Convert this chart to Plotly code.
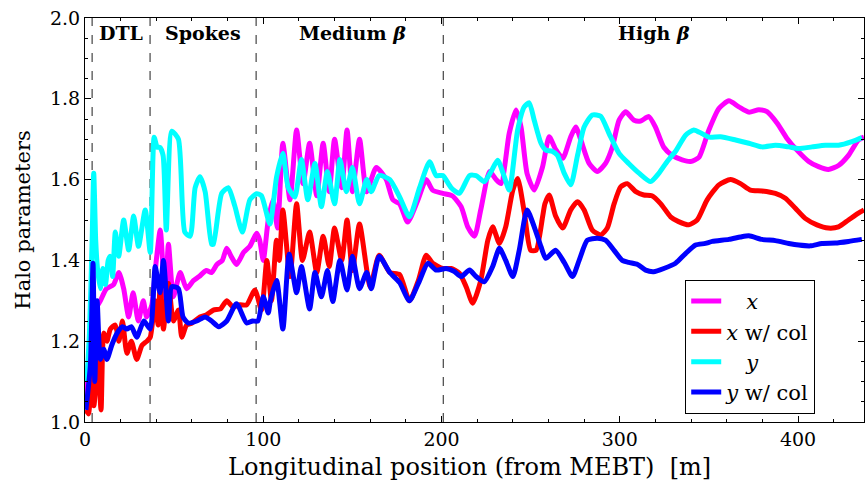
import plotly.graph_objects as go

# ---------------- data ----------------
x_mag = [0.5, 2, 4, 6, 8.6, 12, 16, 19, 21.7, 24.5, 27, 29.9, 32.7, 34.6, 37.5, 40, 42.2, 45, 46.8, 49.6,
         53.4, 57, 60.8, 64, 68, 71, 74, 77, 79.5, 82, 85, 89, 92.5, 96.3, 98, 100, 102.8, 105.5, 108, 111,
         115, 118.7, 122.3, 126, 130, 133.6, 137, 140, 144, 147, 150, 154, 158, 163.4, 169, 172.7, 176.5, 181,
         186.8, 191.4, 195, 200.7, 206, 211, 214.7, 218.5, 222, 227, 230.6, 233.4, 238, 241.8, 244.6, 248,
         252, 256.7, 260.4, 264, 268, 272.5, 275.3, 278, 282.8, 287.4, 292, 295.8, 299.6, 303.3, 308, 311.7,
         316.3, 320, 324.7, 329.4, 335, 339.7, 344.4, 350, 355.6, 361.2, 366.8, 372.4, 378, 382.6, 388.2,
         393.8, 399.4, 406, 411.5, 417, 422.7, 428.3, 433.9, 437]
y_mag = [1.05, 1.15, 1.22, 1.28, 1.30, 1.33, 1.34, 1.37, 1.33, 1.26, 1.32, 1.25, 1.30, 1.26, 1.29, 1.40, 1.475, 1.30, 1.44, 1.31,
         1.37, 1.33, 1.35, 1.36, 1.375, 1.37, 1.39, 1.40, 1.43, 1.41, 1.39, 1.42, 1.435, 1.467, 1.45, 1.40, 1.50, 1.55, 1.48, 1.69,
         1.55, 1.723, 1.59, 1.69, 1.56, 1.69, 1.57, 1.70, 1.58, 1.723, 1.57, 1.70, 1.57, 1.63, 1.60, 1.55, 1.54, 1.495,
         1.55, 1.60, 1.574, 1.566, 1.56, 1.533, 1.483, 1.46, 1.525, 1.62, 1.60, 1.59, 1.715, 1.772, 1.73, 1.615,
         1.574, 1.632, 1.706, 1.675, 1.653, 1.706, 1.73, 1.70, 1.64, 1.62, 1.64, 1.68, 1.747, 1.768, 1.747, 1.745,
         1.756, 1.73, 1.68, 1.66, 1.649, 1.645, 1.655, 1.723, 1.776, 1.795, 1.78, 1.767, 1.773, 1.768, 1.74,
         1.702, 1.673, 1.645, 1.632, 1.625, 1.635, 1.66, 1.698, 1.705]

x_red = [0.5, 2, 3.6, 5, 7.2, 9, 10.5, 12.3, 14.2, 17, 19, 21, 23.5, 26, 29, 32, 34.7, 36.6, 39.4, 41, 42.2, 44,
         46.8, 49.6, 52.4, 54.3, 57, 60, 64.5, 68, 72, 76, 79.5, 83, 87, 90.7, 95.3, 99, 102, 104.6, 107.4, 109,
         111, 115, 118.7, 122, 126, 130, 133.6, 137, 140, 144, 147, 150, 154, 160, 165, 171, 176.5, 182, 187,
         191.4, 195, 200.7, 205.4, 210, 213.8, 217.5, 222, 226, 228.7, 232.5, 236, 240, 242.7, 246.4, 250, 253,
         256.7, 258, 260.4, 264, 268, 272.5, 276.3, 280, 284.6, 289.3, 293, 296.8, 300.5, 304.2, 309, 313.5,
         318, 323, 328.5, 333, 338.7, 343.4, 349, 355.6, 362.1, 367.7, 373.3, 379.8, 387.3, 392.9, 398.5,
         404, 410.6, 417, 422.7, 428.3, 433.9, 437]
y_red = [1.03, 1.02, 1.22, 1.04, 1.15, 1.03, 1.22, 1.20, 1.23, 1.24, 1.20, 1.25, 1.17, 1.20, 1.155, 1.19, 1.20, 1.21, 1.30, 1.24, 1.343, 1.23,
         1.343, 1.25, 1.277, 1.21, 1.24, 1.245, 1.26, 1.265, 1.277, 1.28, 1.30, 1.285, 1.29, 1.29, 1.327, 1.277, 1.40, 1.30, 1.45, 1.40,
         1.525, 1.36, 1.54, 1.40, 1.47, 1.37, 1.46, 1.385, 1.48, 1.40, 1.50, 1.375, 1.49, 1.335, 1.413, 1.37, 1.365, 1.30, 1.35,
         1.413, 1.393, 1.38, 1.38, 1.368, 1.335, 1.294, 1.35, 1.45, 1.483, 1.442, 1.483, 1.574, 1.603, 1.52, 1.425, 1.425,
         1.508, 1.54, 1.562, 1.51, 1.48, 1.525, 1.545, 1.525, 1.475, 1.463, 1.48, 1.54, 1.582, 1.59, 1.57, 1.562,
         1.56, 1.54, 1.508, 1.496, 1.488, 1.50, 1.55, 1.587, 1.60, 1.59, 1.574, 1.572, 1.566, 1.554, 1.529,
         1.504, 1.488, 1.48, 1.483, 1.50, 1.517, 1.525]

x_cyan = [1, 2.5, 4, 4.9, 6, 7, 8.6, 10, 11.5, 13, 14.2, 15.5, 17, 18.9, 21.7, 24.5, 27.3, 30, 33.8, 36.6, 38.8,
          40.5, 42, 43.8, 45.6, 48.7, 52.4, 56, 59, 61.8, 64.5, 67.4, 71, 72, 76.7, 80.4, 84, 88.3, 92.5, 96.3,
          99, 103.7, 107.5, 111, 114, 117.7, 121.4, 125, 129, 132.6, 136, 140, 143, 146.6, 150, 154, 158, 160.6,
          165, 171, 176.5, 182, 187.7, 193.3, 197, 200.7, 205.4, 210, 215.7, 219.4, 224, 227.8, 231.5, 235, 238,
          242.7, 246.4, 249.2, 252, 255.8, 258.5, 262, 265, 268.8, 272.5, 276.3, 280, 284.6, 289.3, 294, 299.6,
          305, 310.8, 317.3, 322, 326.6, 331.3, 336.9, 341.5, 346, 350, 356.5, 365, 372.4, 379.8, 387.3, 394.8,
          400.4, 407.8, 415.3, 422.7, 430.2, 435.8]
y_cyan = [1.10, 1.22, 1.45, 1.616, 1.45, 1.38, 1.33, 1.38, 1.34, 1.40, 1.41, 1.36, 1.47, 1.41, 1.50, 1.426, 1.51, 1.435, 1.525, 1.42, 1.705,
          1.68, 1.68, 1.66, 1.475, 1.72, 1.70, 1.47, 1.46, 1.58, 1.607, 1.57, 1.44, 1.44, 1.566, 1.58, 1.535, 1.47, 1.55, 1.565,
          1.56, 1.49, 1.607, 1.665, 1.58, 1.557, 1.65, 1.55, 1.64, 1.533, 1.62, 1.54, 1.65, 1.57, 1.63, 1.54, 1.60, 1.57,
          1.61, 1.60, 1.557, 1.508, 1.58, 1.644, 1.61, 1.61, 1.58, 1.566, 1.61, 1.61, 1.595, 1.62, 1.648, 1.61, 1.574,
          1.723, 1.78, 1.79, 1.747, 1.69, 1.673, 1.67, 1.66, 1.616, 1.587, 1.66, 1.73, 1.76, 1.757, 1.714, 1.665,
          1.64, 1.616, 1.595, 1.616, 1.645, 1.67, 1.71, 1.723, 1.714, 1.705, 1.706, 1.698, 1.69, 1.681, 1.685, 1.681,
          1.677, 1.681, 1.685, 1.685, 1.694, 1.704]

x_blue = [0.5, 3, 4.5, 5.5, 6.8, 8.6, 10.5, 12.3, 15, 18, 21, 23.5, 26, 29, 33, 36.6, 39.4, 42, 44, 46.8, 48.7,
          52.4, 55, 58, 62.7, 67.4, 71, 75, 79.5, 85, 90.7, 94, 97, 100, 102.8, 104, 107.5, 111, 114.5, 118.7,
          121.4, 126, 129, 132.6, 136, 139, 143, 147, 150, 154, 158, 160.6, 165, 171, 176.5, 182, 187, 192.4,
          197, 202.6, 207, 211, 215.7, 219.4, 224, 228.7, 232.5, 236, 240, 243.6, 248, 252, 255.8, 258.5, 264,
          268.8, 273.5, 277.2, 281.8, 287.4, 292, 296.8, 301.4, 305, 310, 314.5, 319, 324.7, 331.3, 336.9, 342.5,
          348, 351.9, 361.2, 367.7, 372.4, 379.8, 387.3, 394.8, 400.4, 406.9, 413.4, 420.9, 428.3, 435.8]
y_blue = [1.03, 1.14, 1.393, 1.10, 1.30, 1.155, 1.18, 1.155, 1.19, 1.22, 1.236, 1.23, 1.236, 1.21, 1.25, 1.23, 1.385, 1.32, 1.40, 1.25, 1.335,
          1.33, 1.26, 1.245, 1.25, 1.26, 1.25, 1.236, 1.25, 1.293, 1.245, 1.25, 1.25, 1.31, 1.27, 1.30, 1.35, 1.23, 1.415, 1.32,
          1.385, 1.28, 1.37, 1.31, 1.375, 1.298, 1.40, 1.327, 1.41, 1.33, 1.37, 1.33, 1.41, 1.37, 1.345, 1.30, 1.343, 1.393,
          1.376, 1.38, 1.373, 1.36, 1.376, 1.36, 1.347, 1.385, 1.43, 1.40, 1.36, 1.425, 1.525, 1.483, 1.434, 1.405, 1.425,
          1.395, 1.36, 1.40, 1.45, 1.455, 1.45, 1.425, 1.40, 1.395, 1.39, 1.376, 1.372, 1.38, 1.393, 1.417, 1.438,
          1.442, 1.447, 1.452, 1.458, 1.461, 1.452, 1.449, 1.442, 1.438, 1.436, 1.442, 1.443, 1.447, 1.452]

series_names = ["\u00a0\u00a0\u00a0<i>x</i>", "<i>x</i> w/ col", "\u00a0\u00a0\u00a0<i>y</i>", "<i>y</i> w/ col"]
series_colors = ["#FF00FF", "#FF0000", "#00FFFF", "#0000FF"]

section_bounds = [4, 36.5, 96, 201]
section_labels = ["DTL", "Spokes", "Medium <i>β</i>", "High <i>β</i>"]
section_label_x = [20, 66, 150, 319]

x_ticks = [0, 100, 200, 300, 400]
y_ticks = [1.0, 1.2, 1.4, 1.6, 1.8, 2.0]

# ---------------- figure ----------------
FONT = "DejaVu Serif"
fig = go.Figure()
for xs, ys, nm, col in zip([x_mag, x_red, x_cyan, x_blue], [y_mag, y_red, y_cyan, y_blue],
                           series_names, series_colors):
    fig.add_trace(go.Scatter(x=xs, y=ys, mode="lines", name=nm,
                             line=dict(color=col, width=5, shape="spline", smoothing=0.6)))

for b in section_bounds:
    fig.add_shape(type="line", xref="x", yref="paper", x0=b, x1=b, y0=0, y1=1,
                  line=dict(color="#444444", width=1.2, dash="dash"), layer="below")

for lx, lt in zip(section_label_x, section_labels):
    fig.add_annotation(x=lx, y=1.963, xref="x", yref="y", text="<b>" + lt + "</b>",
                       showarrow=False, font=dict(family=FONT, size=19, color="black"))

# axis titles as annotations (fixed positions)
fig.add_annotation(x=0.494, y=-0.071, xref="paper", yref="paper", yanchor="top",
                   text="Longitudinal position (from MEBT)  [m]", showarrow=False,
                   font=dict(family=FONT, size=24, color="black"))
fig.add_annotation(x=-0.08, y=0.5, xref="paper", yref="paper", xanchor="center",
                   text="Halo parameters", showarrow=False, textangle=-90,
                   font=dict(family=FONT, size=21, color="black"))

axis_common = dict(showgrid=False, zeroline=False, showline=True, linecolor="black", linewidth=1,
                   mirror="allticks", ticks="inside", ticklen=6, tickcolor="black", automargin=False,
                   tickfont=dict(family=FONT, size=19, color="black"))

fig.update_xaxes(range=[0, 437], tickvals=x_ticks,
                 minor=dict(dtick=20, ticks="inside", ticklen=3, tickcolor="black"),
                 **axis_common)
fig.update_yaxes(range=[1.0, 2.0], tickvals=y_ticks, tickformat=".1f",
                 minor=dict(dtick=0.05, ticks="inside", ticklen=3, tickcolor="black"),
                 **axis_common)

fig.update_layout(
    width=865, height=480,
    margin=dict(l=85, r=1, t=18, b=58),
    paper_bgcolor="white", plot_bgcolor="white",
    showlegend=True,
    legend=dict(x=0.7705, y=0.02, xanchor="left", yanchor="bottom",
                bgcolor="white", bordercolor="black", borderwidth=1,
                font=dict(family=FONT, size=21, color="black"),
                tracegroupgap=0, itemwidth=30),
)

fig.write_html("out.html", config={"displayModeBar": False},
               post_script="document.body.style.margin='0';document.body.style.padding='0';")
